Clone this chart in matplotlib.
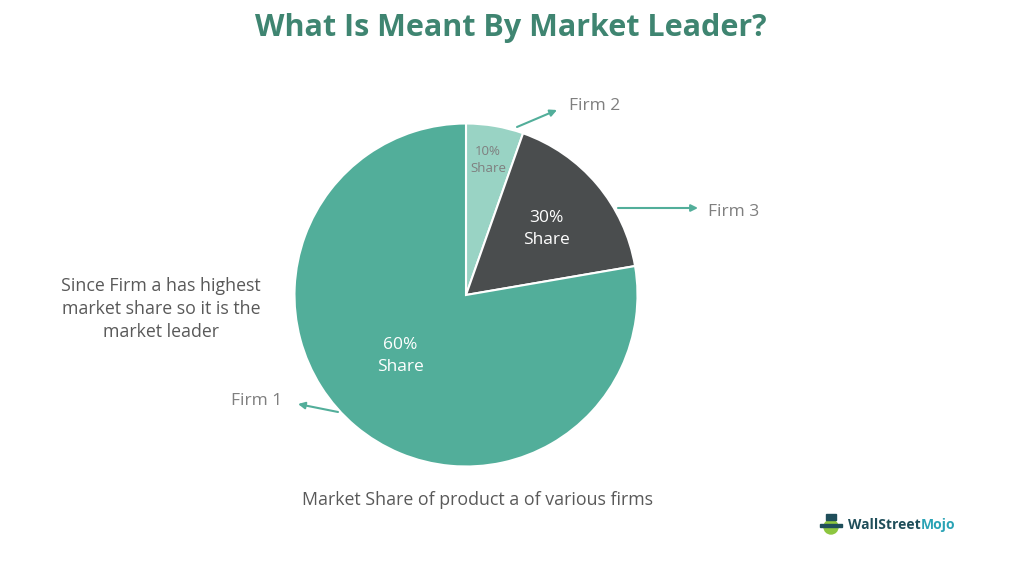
import matplotlib.pyplot as plt
from matplotlib.patches import FancyArrowPatch

# values (wedge angles), labels as printed
firms = ["Firm 2", "Firm 3", "Firm 1"]
wedge_share = [5.4, 16.9, 77.7]
share_text = ["10%\nShare", "30%\nShare", "60%\nShare"]
colors = ["#99d3c4", "#4a4d4e", "#52ae9a"]

W, H = 1024, 565
fig = plt.figure(figsize=(W / 100, H / 100), dpi=100)
ax = fig.add_axes([0, 0, 1, 1])

font = "Open Sans"
cx, cy, r = 466, H - 295, 171.5

ax.pie(wedge_share, colors=colors, startangle=90, counterclock=False,
       center=(cx, cy), radius=r, frame=True,
       wedgeprops=dict(edgecolor="white", linewidth=1.5))
ax.set_xlim(0, W)
ax.set_ylim(0, H)
ax.set_aspect("equal")
ax.axis("off")

# title
ax.text(511, H - 28, "What Is Meant By Market Leader?", ha="center", va="center",
        fontsize=22, fontweight="bold", color="#3f8571", family=font)

# slice labels
ax.text(488, H - 160, share_text[0], ha="center", va="center", fontsize=9.5,
        color="#7f7f7f", family=font, linespacing=1.45)
ax.text(546, H - 229, share_text[1], ha="center", va="center", fontsize=12.5,
        color="white", family=font, linespacing=1.5)
ax.text(400, H - 356, share_text[2], ha="center", va="center", fontsize=12.5,
        color="white", family=font, linespacing=1.5)

# firm labels with arrows
arrow_col = "#52ae9a"
arrows = [((517, H - 127), (557, H - 110)),
          ((618, H - 208), (698, H - 208)),
          ((338, H - 412), (298, H - 404))]
for a, b in arrows:
    ax.add_patch(FancyArrowPatch(a, b, arrowstyle="-|>", mutation_scale=10,
                                 color=arrow_col, linewidth=1.5,
                                 shrinkA=0, shrinkB=0))

ax.text(569, H - 106, firms[0], ha="left", va="center", fontsize=12.5,
        color="#7f7f7f", family=font)
ax.text(708, H - 212, firms[1], ha="left", va="center", fontsize=12.5,
        color="#7f7f7f", family=font)
ax.text(231, H - 401, firms[2], ha="left", va="center", fontsize=12.5,
        color="#7f7f7f", family=font)

ax.text(161, H - 309, "Since Firm a has highest\nmarket share so it is the\nmarket leader",
        ha="center", va="center", fontsize=12.8, color="#595959", family=font,
        linespacing=1.35)

ax.text(478, H - 500, "Market Share of product a of various firms", ha="center",
        va="center", fontsize=12.8, color="#595959", family=font)

# logo
ax.add_patch(plt.Circle((831, H - 527), 7, color="#8dc63f"))
ax.add_patch(plt.Rectangle((826, H - 520), 10, 6, color="#1f4e5a"))
ax.add_patch(plt.Rectangle((820, H - 527), 22, 3, color="#1f4e5a"))
t1 = ax.text(848, H - 525, "WallStreet", ha="left", va="center", fontsize=10,
             fontweight="bold", color="#1f4e5a", family=font)
fig.canvas.draw()
bb = t1.get_window_extent().transformed(ax.transData.inverted())
ax.text(bb.x1, H - 525, "Mojo", ha="left", va="center", fontsize=10,
        fontweight="bold", color="#2aa3b5", family=font)

fig.savefig("out.png", dpi=100, facecolor="white")
